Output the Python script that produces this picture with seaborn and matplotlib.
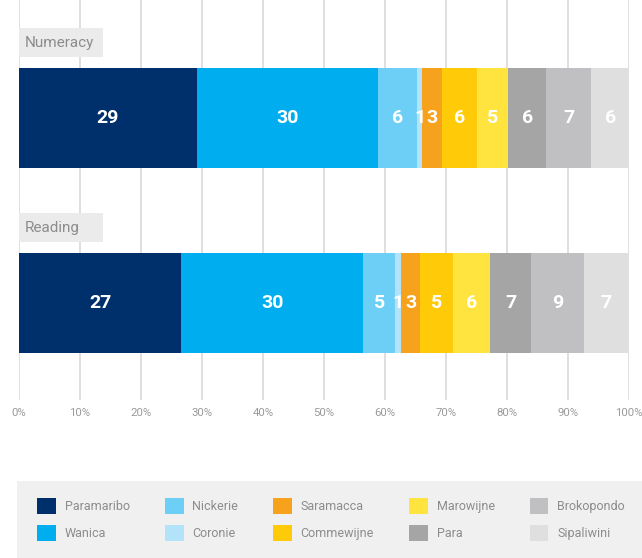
import numpy as np
import pandas as pd
import matplotlib.pyplot as plt
import matplotlib.patches as mpatches
import seaborn as sns

subjects = ["Numeracy", "Reading"]
regions = ["Paramaribo", "Wanica", "Nickerie", "Coronie", "Saramacca",
           "Commewijne", "Marowijne", "Para", "Brokopondo", "Sipaliwini"]
numeracy = [29.1, 29.7, 6.4, 0.9, 3.3, 5.7, 5.1, 6.2, 7.4, 6.2]
reading = [26.6, 29.8, 5.3, 0.9, 3.2, 5.3, 6.1, 6.8, 8.6, 7.4]
colors = ["#00306b", "#00aeef", "#6dcff6", "#b3e3f9", "#f7a21d",
          "#ffcb08", "#ffe440", "#a5a5a5", "#c0c0c2", "#dfdfe0"]
ticks = list(range(0, 101, 10))
tick_labels = [f"{t}%" for t in ticks]

sns.set_style("white")
plt.rcParams["font.family"] = ["Roboto", "DejaVu Sans"]

df = pd.DataFrame({"Numeracy": numeracy, "Reading": reading}, index=regions)
cum = df.cumsum()

fig = plt.figure(figsize=(6.42, 5.58), dpi=100)
ax = fig.add_axes([19 / 642, 1 - 400 / 558, 610 / 642, 400 / 558])

# stacked bars: draw the longest cumulative first, shorter ones over it
for reg, col in reversed(list(zip(regions, colors))):
    part = pd.DataFrame({"subject": subjects, "cum": cum.loc[reg, subjects].values})
    sns.barplot(data=part, x="cum", y="subject", color=col, orient="h",
                width=0.54, saturation=1, linewidth=0, ax=ax, zorder=3)

for i, s in enumerate(subjects):
    for reg in regions:
        v = df.loc[reg, s]
        ax.text(cum.loc[reg, s] - v / 2, i, str(int(round(v))), ha="center",
                va="center", color="white", fontsize=14, fontweight="bold", zorder=5)
    ax.add_patch(mpatches.Rectangle((0, i - 0.408 - 0.079), 13.8, 0.158,
                                    fc="#ebebeb", ec="none", zorder=4, clip_on=False))
    ax.text(1.0, i - 0.408, s, ha="left", va="center", color="#8c8c8c",
            fontsize=11, zorder=5)

ax.set_xlim(0, 100)
ax.set_ylim(1.524, -0.638)
ax.set_xticks(ticks)
ax.set_xticklabels(tick_labels, color="#9a9a9a", fontsize=8.2)
ax.tick_params(axis="x", length=0, pad=6)
ax.set_yticks([])
ax.set_xlabel("")
ax.set_ylabel("")
ax.xaxis.grid(True, color="#dcdcdc", linewidth=1.3, zorder=0)
ax.set_axisbelow(True)
sns.despine(ax=ax, left=True, bottom=True)

# legend panel
fig.patches.append(mpatches.Rectangle((17 / 642, 0), 1 - 17 / 642, 77 / 558,
                                      transform=fig.transFigure, fc="#f0f0f0",
                                      ec="none", zorder=0))
handles = [mpatches.Patch(fc=c, ec="none", label=r) for r, c in zip(regions, colors)]
fig.legend(handles=handles, ncol=5, loc="center left", frameon=False,
           bbox_to_anchor=(26 / 642, 1 - 519.5 / 558), fontsize=9,
           handlelength=1.5, handleheight=1.5, handletextpad=0.7,
           columnspacing=2.8, labelspacing=0.95, labelcolor="#8c8c8c")

fig.savefig("out.png", dpi=100)
